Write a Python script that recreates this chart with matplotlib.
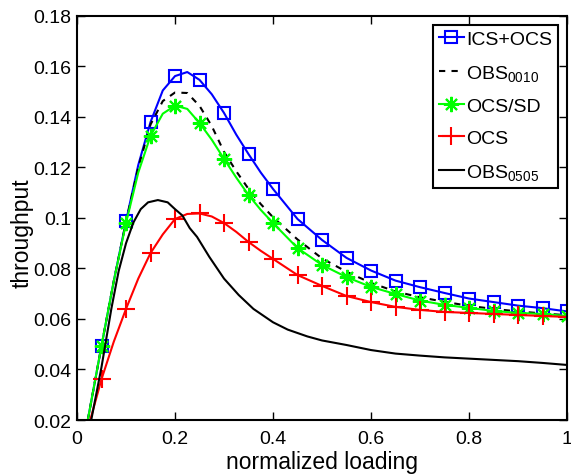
import matplotlib
matplotlib.use('Agg')
import matplotlib.pyplot as plt

plt.rcParams['font.family'] = ['Liberation Sans', 'DejaVu Sans']
plt.rcParams['mathtext.fontset'] = 'custom'
plt.rcParams['mathtext.rm'] = 'Liberation Sans'
plt.rcParams['mathtext.default'] = 'regular'

# normalized loading (line grid, markers sit on multiples of 0.05)
x = [0.022, 0.05, 0.075, 0.1, 0.125, 0.15, 0.175, 0.2, 0.225, 0.25, 0.275,
     0.3, 0.325, 0.35, 0.375, 0.4, 0.45, 0.5, 0.55, 0.6, 0.65, 0.7, 0.75,
     0.8, 0.85, 0.9, 0.95, 1.0]

ics_ocs = [0.02, 0.0493, 0.075, 0.0988, 0.121, 0.138, 0.1505, 0.1562, 0.1578,
           0.1547, 0.149, 0.1416, 0.133, 0.1253, 0.118, 0.1115, 0.0996, 0.0913,
           0.0842, 0.0792, 0.0752, 0.0726, 0.0703, 0.0681, 0.0667, 0.0653,
           0.0643, 0.063]
obs_0010 = [0.02, 0.0495, 0.075, 0.0985, 0.12, 0.137, 0.1463, 0.1497, 0.1495,
            0.1444, 0.1364, 0.1262, 0.1185, 0.1115, 0.1055, 0.1003, 0.0915,
            0.084, 0.0787, 0.0743, 0.0709, 0.0686, 0.0668, 0.0652, 0.064,
            0.063, 0.0622, 0.0615]
ocs_sd = [0.02, 0.0495, 0.075, 0.098, 0.118, 0.1325, 0.1413, 0.1445, 0.1432,
          0.1376, 0.131, 0.1234, 0.116, 0.1091, 0.1032, 0.098, 0.0881, 0.0814,
          0.0766, 0.0727, 0.0699, 0.0673, 0.0656, 0.0644, 0.0632, 0.0624,
          0.062, 0.0612]

x_ocs = [0.027] + x[1:]
ocs = [0.02, 0.0362, 0.051, 0.064, 0.076, 0.0861, 0.0935, 0.0996, 0.1016,
       0.1018, 0.1006, 0.098, 0.0945, 0.0905, 0.087, 0.0838, 0.0774, 0.0731,
       0.0691, 0.0667, 0.0648, 0.0636, 0.0628, 0.0624, 0.062, 0.0616, 0.0612,
       0.0608]

# OBS 0505 has no markers, read on its own grid
x_0505 = [0.029, 0.05, 0.07, 0.085, 0.1, 0.115, 0.13, 0.145, 0.165, 0.185,
          0.2, 0.215, 0.23, 0.245, 0.27, 0.3, 0.33, 0.36, 0.4, 0.43, 0.47,
          0.5, 0.55, 0.6, 0.65, 0.7, 0.75, 0.8, 0.85, 0.9, 0.95, 1.0]
obs_0505 = [0.02, 0.041, 0.064, 0.079, 0.09, 0.0982, 0.1035, 0.1062, 0.1071,
            0.1062, 0.1035, 0.101, 0.096, 0.0925, 0.0846, 0.076, 0.0695,
            0.064, 0.0587, 0.0558, 0.0531, 0.0515, 0.0497, 0.0477, 0.0463,
            0.0455, 0.0448, 0.0443, 0.0438, 0.0433, 0.0426, 0.0418]

marks = [i for i, v in enumerate(x) if abs(v * 20 - round(v * 20)) < 1e-9]

fig = plt.figure(figsize=(5.71, 4.77), dpi=100)
ax = fig.add_axes([0.1349, 0.1174, 0.8581, 0.847])

lw = 1.5
ax.plot(x, ics_ocs, color='#0000ff', lw=lw, marker='s', ms=9, mfc='none',
        mec='#0000ff', mew=1.5, markevery=marks, label='ICS+OCS')
ax.plot(x, obs_0010, color='black', lw=lw, ls=(0, (3, 3)),
        label='OBS$_{0010}$')
ax.plot(x, ocs_sd, color='#00ff00', lw=lw, marker=(8, 2, 0), ms=11,
        mec='#00ff00', mew=1.5, markevery=marks, label='OCS/SD')
ax.plot(x_ocs, ocs, color='#ff0000', lw=lw, marker='+', ms=13,
        mec='#ff0000', mew=1.5, markevery=marks, label='OCS')
ax.plot(x_0505, obs_0505, color='black', lw=lw, label='OBS$_{0505}$')

ax.set_xlim(0, 1)
ax.set_ylim(0.02, 0.18)
ax.set_xticks([0, 0.2, 0.4, 0.6, 0.8, 1])
ax.set_xticklabels(['0', '0.2', '0.4', '0.6', '0.8', '1'])
ax.set_yticks([0.02, 0.04, 0.06, 0.08, 0.1, 0.12, 0.14, 0.16, 0.18])
ax.set_yticklabels(['0.02', '0.04', '0.06', '0.08', '0.1', '0.12', '0.14',
                    '0.16', '0.18'])
ax.tick_params(direction='in', top=True, right=True, length=6, width=1,
               labelsize=14)
ax.tick_params(axis='x', pad=7)
ax.tick_params(axis='y', pad=4)
for s in ax.spines.values():
    s.set_linewidth(1.5)

ax.set_xlabel('normalized loading', fontsize=16.5, labelpad=2)
ax.set_ylabel('throughput', fontsize=16.5)
ax.yaxis.set_label_coords(-0.088, 0.465)

leg = ax.legend(loc='upper right', fontsize=14, handlelength=1.25,
                handletextpad=0.15, labelspacing=0.75, borderpad=0.3,
                borderaxespad=0.45, fancybox=False, framealpha=1)
leg.get_frame().set_edgecolor('black')
leg.get_frame().set_linewidth(1.5)

plt.savefig('out.png', dpi=100)
